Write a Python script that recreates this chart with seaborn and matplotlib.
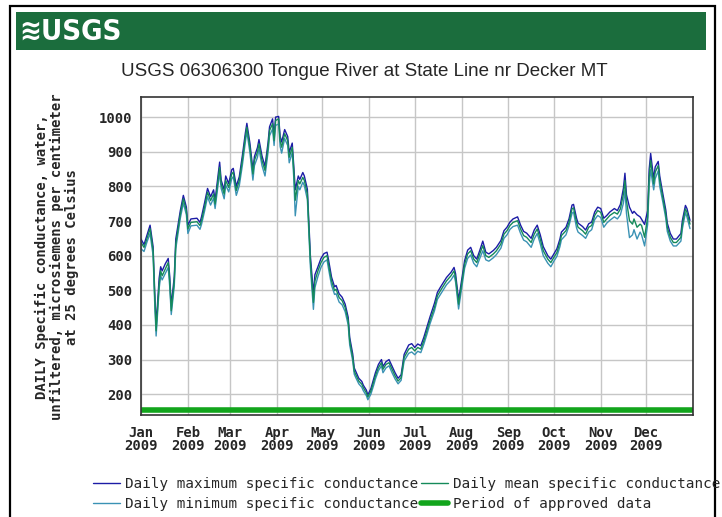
import pandas as pd
import matplotlib.pyplot as plt
import seaborn as sns
from matplotlib.patches import Rectangle
from matplotlib.lines import Line2D

# values (day of year 2009, uS/cm at 25 C)
day_of_year = [0, 2, 4, 6, 8, 9, 10, 12, 13, 14, 16, 18, 19, 20, 22, 23, 26, 28, 30, 31,
               33, 37, 39, 40, 42, 44, 46, 48, 49, 52, 53, 55, 56, 58, 60, 61, 63, 65, 67, 69,
               70, 72, 74, 75, 77, 78, 80, 82, 84, 85, 87, 88, 89, 91, 92, 93, 95, 97, 98, 100,
               101, 102, 104, 105, 107, 108, 110, 111, 112, 114, 115, 117, 119, 121, 123, 124, 126, 128, 129, 131,
               133, 135, 137, 138, 140, 141, 142, 144, 146, 147, 149, 150, 152, 154, 155, 157, 159, 160, 162, 164,
               166, 168, 170, 172, 174, 177, 179, 181, 183, 185, 187, 189, 191, 194, 196, 198, 200, 202, 205, 207,
               208, 210, 212, 214, 216, 218, 220, 222, 224, 226, 228, 230, 233, 235, 238, 240, 242, 244, 246, 249,
               251, 253, 255, 258, 260, 262, 264, 266, 269, 271, 273, 275, 277, 278, 281, 283, 285, 286, 288, 289,
               292, 294, 296, 298, 300, 302, 304, 306, 308, 310, 313, 315, 317, 319, 320, 321, 323, 325, 326, 328,
               330, 331, 333, 335, 336, 337, 339, 340, 342, 343, 345, 347, 348, 350, 352, 354, 357, 358, 360, 361,
               363]

max_cond = [648, 632, 660, 688, 626, 505, 398, 535, 568, 556, 576, 592, 540, 455, 540, 648, 730, 774, 740, 688,
            706, 708, 696, 712, 752, 794, 770, 790, 760, 870, 818, 790, 830, 808, 848, 852, 800, 828, 888, 954,
            982, 925, 848, 886, 912, 935, 888, 858, 926, 972, 995, 945, 1000, 1002, 945, 928, 964, 944, 898, 925,
            860, 790, 830, 820, 840, 830, 792, 698, 600, 490, 545, 568, 592, 606, 610, 588, 538, 510, 514, 490,
            480, 460, 422, 364, 316, 276, 266, 246, 237, 226, 212, 198, 216, 246, 262, 286, 300, 280, 294, 300,
            281, 262, 246, 256, 315, 342, 346, 335, 345, 340, 364, 393, 422, 462, 494, 509, 523, 537, 552, 566,
            548, 472, 528, 586, 616, 624, 600, 590, 615, 642, 610, 605, 615, 624, 644, 672, 682, 697, 706, 712,
            688, 670, 665, 650, 674, 688, 660, 626, 600, 590, 605, 620, 648, 668, 682, 706, 746, 748, 708, 694,
            684, 674, 692, 697, 726, 740, 736, 708, 716, 726, 736, 730, 748, 795, 838, 776, 740, 722, 728, 718,
            712, 705, 690, 730, 848, 895, 822, 856, 872, 830, 780, 732, 694, 664, 648, 648, 664, 702, 745, 736,
            702]

mean_cond = [638, 624, 650, 678, 614, 489, 383, 518, 556, 542, 561, 580, 527, 441, 527, 634, 720, 764, 730, 677,
             696, 698, 687, 701, 740, 783, 759, 778, 749, 855, 807, 778, 817, 797, 836, 841, 788, 817, 875, 942,
             971, 913, 836, 875, 899, 923, 875, 846, 913, 961, 981, 932, 990, 995, 932, 913, 952, 932, 884, 913,
             846, 760, 817, 807, 826, 817, 778, 682, 585, 465, 527, 556, 580, 595, 600, 576, 527, 499, 503, 479,
             470, 450, 412, 354, 306, 267, 257, 238, 229, 219, 204, 192, 209, 238, 253, 277, 291, 272, 286, 291,
             272, 253, 238, 248, 306, 330, 335, 325, 335, 330, 354, 383, 412, 450, 484, 499, 513, 527, 542, 556,
             537, 460, 518, 576, 605, 614, 590, 580, 605, 629, 600, 595, 605, 614, 634, 662, 672, 687, 696, 701,
             677, 658, 653, 638, 662, 677, 648, 614, 590, 580, 595, 609, 638, 658, 672, 696, 735, 738, 696, 682,
             672, 662, 682, 687, 716, 730, 725, 696, 706, 716, 725, 720, 735, 778, 817, 759, 701, 691, 706, 682,
             691, 687, 653, 711, 826, 875, 807, 841, 860, 817, 769, 720, 682, 653, 638, 638, 653, 691, 735, 725,
             691]

min_cond = [620, 612, 640, 664, 600, 470, 368, 505, 542, 530, 548, 566, 510, 430, 512, 620, 708, 752, 718, 664,
            686, 688, 676, 690, 728, 770, 746, 766, 736, 840, 794, 764, 804, 784, 822, 828, 774, 802, 860, 928,
            958, 898, 818, 860, 884, 908, 860, 830, 898, 946, 966, 918, 976, 980, 915, 896, 938, 918, 868, 898,
            826, 715, 800, 790, 812, 802, 762, 664, 568, 445, 508, 540, 566, 582, 588, 562, 514, 488, 490, 466,
            458, 438, 400, 342, 296, 258, 248, 230, 220, 210, 196, 184, 200, 228, 244, 268, 282, 262, 276, 282,
            262, 244, 230, 240, 296, 318, 322, 314, 324, 320, 344, 372, 402, 440, 474, 488, 502, 516, 530, 544,
            524, 446, 506, 564, 592, 602, 578, 568, 592, 614, 588, 584, 594, 603, 622, 650, 660, 676, 684, 688,
            664, 645, 640, 624, 648, 664, 634, 600, 578, 568, 584, 598, 626, 646, 660, 686, 722, 726, 680, 668,
            658, 650, 668, 675, 704, 716, 710, 682, 694, 702, 712, 706, 718, 752, 790, 722, 652, 660, 675, 648,
            668, 660, 628, 690, 800, 848, 790, 822, 845, 800, 756, 708, 670, 642, 628, 628, 642, 678, 724, 712,
            678]

approved_dates = ['2009-01-01', '2010-01-01']
approved_level = [155, 155]

month_starts = pd.date_range('2009-01-01', periods=12, freq='MS')
month_labels = ['Jan\n2009', 'Feb\n2009', 'Mar\n2009', 'Apr\n2009', 'May\n2009', 'Jun\n2009',
                'Jul\n2009', 'Aug\n2009', 'Sep\n2009', 'Oct\n2009', 'Nov\n2009', 'Dec\n2009']
y_ticks = [200, 300, 400, 500, 600, 700, 800, 900, 1000]

df = pd.DataFrame({'day': day_of_year, 'max': max_cond, 'mean': mean_cond, 'min': min_cond})
df['date'] = pd.Timestamp('2009-01-01') + pd.to_timedelta(df['day'], unit='D')
df_app = pd.DataFrame({'date': pd.to_datetime(approved_dates), 'level': approved_level})

sns.set_style('white')
plt.rcParams['font.family'] = ['DejaVu Sans']

c_max = '#1c1ca6'
c_mean = '#158a5a'
c_min = '#3a92b4'
c_app = '#12a51c'

W, H = 722, 517
fig = plt.figure(figsize=(7.22, 5.17), dpi=100)

# frame and header band
fig.patches.append(Rectangle((10 / W, -0.05), 705 / W, 1.05 - 6 / H, transform=fig.transFigure,
                             fill=False, ec='black', lw=1.6))
fig.patches.append(Rectangle((16 / W, 1 - 50 / H), 690 / W, 38 / H, transform=fig.transFigure,
                             fc='#1b6d3d', ec='none'))
fig.text(19 / W, 1 - 32 / H, '\u224bUSGS', color='white', fontsize=21, fontweight='bold',
         fontstretch='condensed', va='center', ha='left')
fig.text(364 / W, 1 - 71 / H, 'USGS 06306300 Tongue River at State Line nr Decker MT',
         family='Liberation Sans', fontsize=13.5, ha='center', va='center')

ax = fig.add_axes([141 / W, 1 - 415 / H, 552 / W, 318 / H])

sns.lineplot(data=df, x='date', y='max', color=c_max, lw=1, ax=ax)
sns.lineplot(data=df, x='date', y='min', color=c_min, lw=1, ax=ax)
sns.lineplot(data=df, x='date', y='mean', color=c_mean, lw=1, ax=ax)
sns.lineplot(data=df_app, x='date', y='level', color=c_app, lw=4, ax=ax)

ax.set_xlim(pd.Timestamp('2009-01-01'), pd.Timestamp('2010-01-01'))
ax.set_ylim(140, 1058)
ax.set_xticks(month_starts)
ax.set_xticklabels(month_labels)
ax.set_yticks(y_ticks)
ax.set_xlabel('')
ax.set_ylabel('')
ax.grid(True, color='#c6c6c6', lw=1)
ax.tick_params(axis='y', length=0, labelsize=10, pad=6)
ax.tick_params(axis='x', length=0, labelsize=10, pad=8)
for lab in ax.get_xticklabels() + ax.get_yticklabels():
    lab.set_family('DejaVu Sans Mono')
    lab.set_fontweight('bold')
for lab in ax.get_xticklabels():
    lab.set_linespacing(0.92)
for sp in ax.spines.values():
    sp.set_color('#333333')
    sp.set_linewidth(1.2)

fig.text(57 / W, 1 - 257 / H,
         'DAILY Specific conductance, water,\nunfiltered, microsiemens per centimeter\nat 25 degrees Celsius',
         rotation=90, ha='center', va='center', multialignment='center',
         family='DejaVu Sans Mono', fontweight='bold', fontsize=10, linespacing=1.05)

handles = [Line2D([], [], color=c_max, lw=1), Line2D([], [], color=c_min, lw=1),
           Line2D([], [], color=c_mean, lw=1), Line2D([], [], color=c_app, lw=4)]
labels = ['Daily maximum specific conductance', 'Daily minimum specific conductance',
          'Daily mean specific conductance', 'Period of approved data']
fig.legend(handles, labels, ncol=2, loc='upper left', bbox_to_anchor=(93 / W, 1 - 477 / H),
           frameon=False, prop={'family': 'DejaVu Sans Mono', 'size': 10.3},
           handlelength=1.9, handletextpad=0.35, columnspacing=0.2, borderaxespad=0,
           borderpad=0, labelspacing=0.42)

fig.savefig('out.png', dpi=100)
